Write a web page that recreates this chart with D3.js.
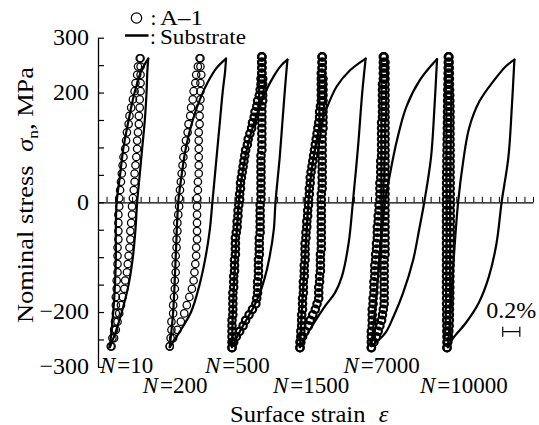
<!DOCTYPE html>
<html>
<head>
<meta charset="utf-8">
<script src="https://cdn.jsdelivr.net/npm/d3@7"></script>
<style>
  body { margin: 0; background: #fff; }
</style>
</head>
<body>
<div id="chart"></div>
<script>
// ---- data (strain in %, stress in MPa) ----
var cycles = ["10", "200", "500", "1500", "7000", "10000"];
// horizontal shift of each loop (strain of its lower turning point, %)
var loopShift = [0.149, 0.841, 1.571, 2.368, 3.195, 4.092];

var stressTicks = [-300, -250, -200, -150, -100, -50, 0, 50, 100, 150, 200, 250, 300];
var stressLabels = [-300, -200, 0, 200, 300];

// stress of each A-1 marker (N = 10, 200)
var levels15 = [-262.5, -247.5, -232.5, -217.5, -202.5, -187.5, -172.5, -157.5, -142.5, -127.5,
  -112.5, -97.5, -82.5, -67.5, -52.5, -37.5, -22.5, -7.5, 7.5, 22.5, 37.5, 52.5, 67.5, 82.5,
  97.5, 112.5, 127.5, 142.5, 157.5, 172.5, 187.5, 202.5, 217.5, 232.5, 247.5, 262.5];
// stress of each A-1 marker (N = 500 ... 10000)
var levels10 = [-265, -255, -245, -235, -225, -215, -205, -195, -185, -175, -165, -155, -145,
  -135, -125, -115, -105, -95, -85, -75, -65, -55, -45, -35, -25, -15, -5, 5, 15, 25, 35, 45,
  55, 65, 75, 85, 95, 105, 115, 125, 135, 145, 155, 165, 175, 185, 195, 205, 215, 225, 235,
  245, 255, 265];

// A-1 strain at each level, loading (up) and unloading (down) branch
var a1UpN10 = [0.00,0.02,0.04,0.05,0.06,0.06,0.06,0.07,0.07,0.08,0.08,0.08,0.08,0.09,0.09,0.09,0.09,0.10,
  0.10,0.11,0.12,0.13,0.14,0.15,0.17,0.18,0.19,0.21,0.22,0.24,0.26,0.28,0.29,0.31,0.32,0.34];
var a1DownN10 = [0.01,0.04,0.06,0.08,0.10,0.12,0.14,0.16,0.17,0.19,0.20,0.21,0.22,0.23,0.23,0.24,0.25,0.25,
  0.26,0.27,0.28,0.28,0.29,0.30,0.31,0.31,0.32,0.33,0.33,0.34,0.34,0.35,0.35,0.35,0.35,0.35];
var a1UpN200 = [0.00,0.01,0.02,0.02,0.04,0.04,0.05,0.06,0.06,0.07,0.07,0.07,0.08,0.08,0.09,0.09,0.10,0.11,
  0.11,0.12,0.13,0.14,0.15,0.16,0.18,0.19,0.21,0.22,0.24,0.25,0.27,0.28,0.30,0.31,0.33,0.35];
var a1DownN200 = [0.00,0.04,0.09,0.13,0.17,0.20,0.23,0.26,0.28,0.29,0.30,0.31,0.31,0.32,0.32,0.32,0.32,0.32,
  0.32,0.33,0.33,0.34,0.34,0.34,0.34,0.34,0.34,0.35,0.35,0.35,0.36,0.36,0.36,0.37,0.36,0.36];
var a1UpN500 = [0.00,0.00,0.00,0.00,0.00,0.00,0.01,0.01,0.01,0.01,0.01,0.02,0.02,0.02,0.03,0.03,0.03,0.04,
  0.04,0.04,0.04,0.05,0.06,0.06,0.07,0.07,0.08,0.09,0.09,0.10,0.10,0.11,0.12,0.13,0.14,0.15,
  0.16,0.18,0.19,0.21,0.23,0.24,0.26,0.27,0.29,0.30,0.32,0.33,0.34,0.34,0.35,0.35,0.35,0.35];
var a1DownN500 = [0.00,0.02,0.05,0.09,0.13,0.16,0.20,0.24,0.28,0.29,0.30,0.30,0.30,0.31,0.31,0.31,0.31,0.32,
  0.32,0.32,0.32,0.33,0.33,0.33,0.33,0.33,0.33,0.34,0.34,0.34,0.34,0.34,0.34,0.34,0.34,0.34,
  0.35,0.35,0.35,0.35,0.35,0.35,0.35,0.35,0.35,0.36,0.36,0.36,0.36,0.36,0.35,0.35,0.35,0.35];
var a1UpN1500 = [0.00,0.00,0.01,0.01,0.02,0.02,0.02,0.03,0.03,0.03,0.04,0.04,0.04,0.05,0.05,0.05,0.06,0.06,
  0.06,0.06,0.07,0.07,0.08,0.08,0.09,0.09,0.10,0.10,0.11,0.11,0.12,0.12,0.13,0.14,0.15,0.16,
  0.17,0.18,0.19,0.20,0.21,0.22,0.23,0.23,0.24,0.25,0.25,0.25,0.25,0.25,0.25,0.26,0.26,0.26];
var a1DownN1500 = [0.00,0.01,0.03,0.06,0.10,0.12,0.15,0.18,0.20,0.22,0.22,0.22,0.23,0.23,0.24,0.24,0.24,0.24,
  0.25,0.25,0.25,0.25,0.25,0.25,0.25,0.25,0.25,0.25,0.25,0.26,0.26,0.26,0.26,0.26,0.26,0.26,
  0.26,0.26,0.26,0.26,0.27,0.27,0.27,0.27,0.27,0.27,0.27,0.27,0.27,0.27,0.26,0.26,0.26,0.26];
var a1UpN7000 = [0.01,0.01,0.01,0.01,0.02,0.02,0.02,0.02,0.03,0.03,0.04,0.04,0.04,0.05,0.05,0.05,0.06,0.06,
  0.07,0.07,0.08,0.08,0.08,0.09,0.09,0.10,0.10,0.11,0.11,0.11,0.11,0.12,0.12,0.12,0.12,0.13,
  0.13,0.13,0.13,0.13,0.13,0.13,0.14,0.14,0.14,0.14,0.14,0.14,0.14,0.15,0.15,0.15,0.15,0.15];
var a1DownN7000 = [0.01,0.04,0.07,0.09,0.11,0.13,0.14,0.15,0.16,0.16,0.16,0.16,0.16,0.16,0.16,0.16,0.16,0.17,
  0.17,0.17,0.17,0.17,0.17,0.17,0.17,0.17,0.17,0.17,0.17,0.17,0.17,0.17,0.17,0.17,0.17,0.17,
  0.17,0.17,0.17,0.17,0.17,0.17,0.17,0.17,0.17,0.17,0.17,0.17,0.17,0.17,0.17,0.17,0.17,0.16];
var a1UpN10000 = [0.000,-0.001,-0.001,-0.002,-0.002,-0.004,-0.004,-0.004,-0.005,-0.005,
  -0.006,-0.006,-0.006,-0.006,-0.006,-0.006,-0.006,-0.006,-0.006,-0.006,
  -0.006,-0.006,-0.006,-0.006,-0.006,-0.006,-0.006,-0.006,-0.006,-0.006,
  -0.005,-0.005,-0.004,-0.002,-0.002,-0.001,0.000,0.001,0.002,0.004,
  0.004,0.005,0.006,0.006,0.007,0.007,0.008,0.009,0.011,0.012,0.013,0.014,0.015,0.015];
var a1DownN10000 = [0.000,0.009,0.016,0.021,0.025,0.027,0.028,0.029,0.030,0.032,
  0.032,0.033,0.033,0.034,0.034,0.035,0.036,0.036,0.037,0.037,
  0.038,0.038,0.038,0.038,0.038,0.038,0.038,0.038,0.038,0.037,
  0.037,0.036,0.036,0.036,0.036,0.036,0.036,0.036,0.035,0.035,
  0.035,0.035,0.035,0.035,0.034,0.033,0.032,0.030,0.029,0.028,0.027,0.026,0.025,0.023];

// substrate loops, [strain, stress] read along each branch
var subUpN10 = [[-0.01,-264],[0.03,-200],[0.05,-150],[0.06,-100],[0.06,-50],[0.07,0],[0.11,50],
  [0.15,100],[0.21,150],[0.28,200],[0.36,240],[0.44,262]];
var subDownN10 = [[0.44,262],[0.43,240],[0.42,200],[0.40,150],[0.37,100],[0.34,50],[0.31,0],
  [0.29,-50],[0.26,-100],[0.21,-150],[0.13,-200],[0.05,-240],[-0.01,-264]];
var subUpN200 = [[0.00,-264],[0.04,-200],[0.07,-100],[0.10,0],[0.14,50],[0.19,100],[0.27,150],
  [0.36,190],[0.45,220],[0.55,245],[0.66,262]];
var subDownN200 = [[0.66,262],[0.65,240],[0.62,200],[0.59,150],[0.56,100],[0.53,50],[0.50,0],
  [0.47,-50],[0.42,-100],[0.35,-150],[0.25,-200],[0.14,-230],[0.06,-250],[0.00,-264]];
var subUpN500 = [[0.00,-264],[0.01,-200],[0.04,-100],[0.08,0],[0.12,50],[0.18,100],[0.27,150],
  [0.39,200],[0.49,230],[0.58,250],[0.65,260]];
var subDownN500 = [[0.65,260],[0.62,205],[0.59,144],[0.56,83],[0.51,0],[0.49,-50],[0.44,-100],
  [0.38,-140],[0.31,-172],[0.24,-195],[0.14,-222],[0.06,-245],[0.00,-264]];
var subUpN1500 = [[0.00,-264],[0.02,-200],[0.06,-100],[0.10,0],[0.13,50],[0.18,100],[0.22,130],
  [0.29,162],[0.43,211],[0.59,241],[0.77,262]];
var subDownN1500 = [[0.77,262],[0.73,200],[0.68,100],[0.62,0],[0.57,-75],[0.49,-136],[0.41,-165],
  [0.30,-188],[0.14,-226],[0.00,-264]];
var subUpN7000 = [[0.01,-262],[0.05,-200],[0.11,-100],[0.17,0],[0.23,53],[0.31,113],[0.42,174],
  [0.58,223],[0.78,261]];
var subDownN7000 = [[0.78,261],[0.75,174],[0.71,83],[0.63,0],[0.57,-50],[0.50,-105],[0.38,-166],
  [0.27,-208],[0.17,-239],[0.01,-262]];
var subUpN10000 = [[0.01,-264],[0.04,-200],[0.08,-100],[0.13,0],[0.19,75],[0.26,136],[0.38,184],
  [0.54,220],[0.69,248],[0.79,260]];
var subDownN10000 = [[0.79,260],[0.76,174],[0.72,83],[0.64,0],[0.58,-75],[0.49,-136],[0.37,-184],
  [0.22,-220],[0.07,-248],[0.01,-264]];

var scaleBarStrain = 0.2;

// table built from the arrays above
var loops = [
  {n: cycles[0], shift: loopShift[0], levels: levels15, up: a1UpN10, down: a1DownN10, subUp: subUpN10, subDown: subDownN10},
  {n: cycles[1], shift: loopShift[1], levels: levels15, up: a1UpN200, down: a1DownN200, subUp: subUpN200, subDown: subDownN200},
  {n: cycles[2], shift: loopShift[2], levels: levels10, up: a1UpN500, down: a1DownN500, subUp: subUpN500, subDown: subDownN500},
  {n: cycles[3], shift: loopShift[3], levels: levels10, up: a1UpN1500, down: a1DownN1500, subUp: subUpN1500, subDown: subDownN1500},
  {n: cycles[4], shift: loopShift[4], levels: levels10, up: a1UpN7000, down: a1DownN7000, subUp: subUpN7000, subDown: subDownN7000},
  {n: cycles[5], shift: loopShift[5], levels: levels10, up: a1UpN10000, down: a1DownN10000, subUp: subUpN10000, subDown: subDownN10000}
];

// ---- chart ----
var width = 539, height = 425;
var serif = "'Liberation Serif', 'Times New Roman', Tinos, 'DejaVu Serif', serif";

var svg = d3.select("#chart").append("svg")
  .attr("width", width)
  .attr("height", height)
  .attr("font-family", serif);

var x = d3.scaleLinear().domain([0, 5.1]).range([98, 533]);
var y = d3.scaleLinear().domain([-300, 300]).range([366.9, 37.7]);

// stretch a text along its own direction so it spans `len` pixels
function fitText(t, px, py, rot, len) {
  var w = t.node().getBBox().width;
  t.attr("transform", "translate(" + px + "," + py + ") rotate(" + rot + ") scale(" + (len / w) + ",1)");
}

// left axis, ticks pointing inward
var yAxis = d3.axisLeft(y)
  .tickValues(stressTicks)
  .tickSize(-6)
  .tickSizeOuter(0)
  .tickPadding(9)
  .tickFormat(function(d) { return stressLabels.indexOf(d) >= 0 ? d3.format("d")(d) : ""; });

var gy = svg.append("g")
  .attr("transform", "translate(" + x(0) + ",0)")
  .call(yAxis)
  .attr("font-family", serif)
  .attr("font-size", 24);
gy.select(".domain").attr("stroke-width", 1.3);
gy.selectAll(".tick line").attr("stroke-width", 1.2);
gy.selectAll(".tick text").attr("dy", "0.28em");

// zero line with 0.1 % ticks
var gx = svg.append("g")
  .attr("transform", "translate(0," + y(0) + ")")
  .call(d3.axisTop(x)
    .tickValues(d3.range(1, 52).map(function(i) { return i / 10; }))
    .tickSize(5.5)
    .tickSizeOuter(0)
    .tickFormat(""));
gx.select(".domain").attr("stroke-width", 1.3);
gx.selectAll(".tick line").attr("stroke-width", 1);

// substrate loops
var line = d3.line()
  .x(function(d) { return d.x; })
  .y(function(d) { return d.y; })
  .curve(d3.curveCatmullRom.alpha(0.5));

loops.forEach(function(lp) {
  [lp.subUp, lp.subDown].forEach(function(branch) {
    svg.append("path")
      .attr("d", line(branch.map(function(p) { return {x: x(lp.shift + p[0]), y: y(p[1])}; })))
      .attr("fill", "none")
      .attr("stroke", "#000")
      .attr("stroke-width", 2.2)
      .attr("stroke-linecap", "round")
      .attr("stroke-linejoin", "round");
  });
});

// A-1 markers (the densely sampled loops get a heavier outline so they read as a band)
loops.forEach(function(lp) {
  var dense = lp.levels === levels10;
  [lp.up, lp.down].forEach(function(branch) {
    svg.append("g").selectAll("circle")
      .data(branch)
      .enter()
      .append("circle")
      .attr("cx", function(d) { return x(lp.shift + d); })
      .attr("cy", function(d, i) { return y(lp.levels[i]); })
      .attr("r", 3.7)
      .attr("fill", "none")
      .attr("stroke", "#000")
      .attr("stroke-width", dense ? 2.2 : 1.25);
  });
});

// cycle labels
var cyc = svg.append("g").selectAll("text")
  .data(loops)
  .enter()
  .append("text")
  .attr("x", function(d) { return Math.max(100, x(d.shift) - 27); })
  .attr("y", function(d, i) { return i % 2 ? 392.5 : 372.5; })
  .attr("font-size", 23);
cyc.append("tspan").attr("font-style", "italic").text("N");
cyc.append("tspan").attr("dx", 2).text(function(d) { return "=" + d.n; });

// axis titles
var xt = svg.append("text").attr("font-size", 24);
xt.append("tspan").text("Surface strain");
xt.append("tspan").attr("dx", 13).attr("font-style", "italic").text("ε");
fitText(xt, 230, 421.5, 0, 159);

var yt = svg.append("text").attr("font-size", 23);
yt.append("tspan").text("Nominal stress");
yt.append("tspan").attr("dx", 12).attr("font-style", "italic").text("σ");
yt.append("tspan").attr("dy", 5).attr("font-size", 15).text("n");
yt.append("tspan").attr("dy", -5).text(", MPa");
fitText(yt, 33, 323, -90, 256);

// legend
var legend = svg.append("g").attr("font-size", 21);
legend.append("circle")
  .attr("cx", 136.5).attr("cy", 18).attr("r", 5.2)
  .attr("fill", "none").attr("stroke", "#000").attr("stroke-width", 1.2);
legend.append("text").attr("x", 150.5).attr("y", 25).text(":");
fitText(legend.append("text").text("A\u20131"), 160, 25, 0, 43);
legend.append("line")
  .attr("x1", 125).attr("x2", 148.5).attr("y1", 35.5).attr("y2", 35.5)
  .attr("stroke", "#000").attr("stroke-width", 2.5);
legend.append("text").attr("x", 150).attr("y", 44).text(":");
fitText(legend.append("text").text("Substrate"), 160, 44, 0, 86);

// 0.2 % scale bar
var barLen = x(scaleBarStrain) - x(0);
var bar = svg.append("g").attr("transform", "translate(511.3,331.7)");
bar.append("text")
  .attr("x", 0).attr("y", -13.3)
  .attr("text-anchor", "middle")
  .attr("font-size", 24)
  .text(scaleBarStrain + "%");
bar.append("path")
  .attr("d", "M" + (-barLen / 2) + ",-5V5M" + (-barLen / 2) + ",0H" + (barLen / 2) + "M" + (barLen / 2) + ",-5V5")
  .attr("fill", "none")
  .attr("stroke", "#000")
  .attr("stroke-width", 1.2);
</script>
</body>
</html>
